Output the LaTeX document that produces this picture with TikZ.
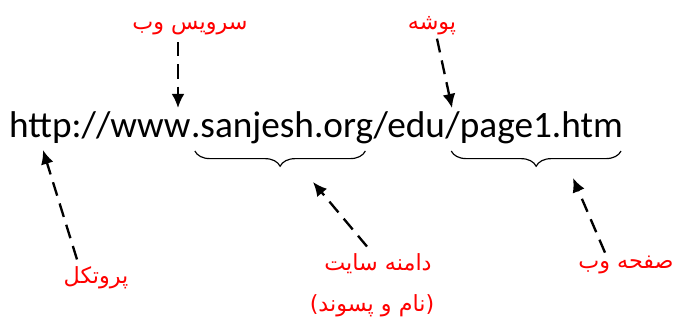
\documentclass[tikz,border=0pt]{standalone}
\usepackage{fontspec}
\setmainfont{Carlito}
\newfontfamily\farsi[Script=Arabic]{DejaVu Sans}
\TeXXeTstate=1
\usetikzlibrary{arrows.meta,decorations.pathreplacing,calc}
\tikzset{
	url/.style={font=\fontsize{31.8}{38}\selectfont, inner sep=0pt, anchor=base west},
	lbl/.style={font=\farsi\fontsize{19}{23}\selectfont, text=red, inner sep=1pt},
	pointer/.style={-{Latex[length=12pt,width=11pt]}, line width=2pt, dash pattern=on 12pt off 7pt},
	curly/.style={decorate, decoration={brace, mirror, amplitude=13pt}, line width=1pt}
}
\newcommand{\fa}[1]{\beginR #1\endR}
\begin{document}
\begin{tikzpicture}[x=0.03cm, y=-0.03cm]
\useasboundingbox (0,0) rectangle (677,323);

% Direccion
	\node[url] (web) at (9,137) {http://www};
	\node[url] (dom) at (web.base east) {.sanjesh.org};
	\node[url] (dir) at (dom.base east) {/edu};
	\node[url] (page) at (dir.base east) {/page1.htm};

	\foreach \n/\l/\r in {dom/4/-8, page/6/-2}
		\draw[curly] ($(\n.base west)+(\l,14)$) -- ($(\n.base east)+(\r,14)$);

% Etiquetas
	\node[lbl] (srv) at (190,28) {\fa{سرویس وب}};
	\node[lbl] (fold) at (432,26) {\fa{پوشه}};
	\node[lbl] (proto) at (96,278) {\fa{پروتکل}};
	\node[lbl] (site) at (378,264) {\fa{دامنه سایت}};
	\node[lbl] (suffix) at (372,306) {\fa{(نام و پسوند)}};
	\node[lbl] (pg) at (626,265) {\fa{صفحه وب}};

% Flechas
	\coordinate (srvtip) at (178,108);
	\coordinate (foldtip) at (452,108);
	\coordinate (prototip) at (43,150);
	\coordinate (sitetip) at (313,182);
	\coordinate (pgtip) at (573,178);

	\draw[pointer] ($(srv.south -| srvtip)+(0,6)$) -- (srvtip);
	\draw[pointer] ($(fold.south)+(5,2)$) -- (foldtip);
	\draw[pointer] ($(proto.north)+(-19,-6)$) -- (prototip);
	\draw[pointer] ($(site.north)+(-11,-6)$) -- (sitetip);
	\draw[pointer] ($(pg.north)+(-21,-2)$) -- (pgtip);
\end{tikzpicture}
\end{document}
